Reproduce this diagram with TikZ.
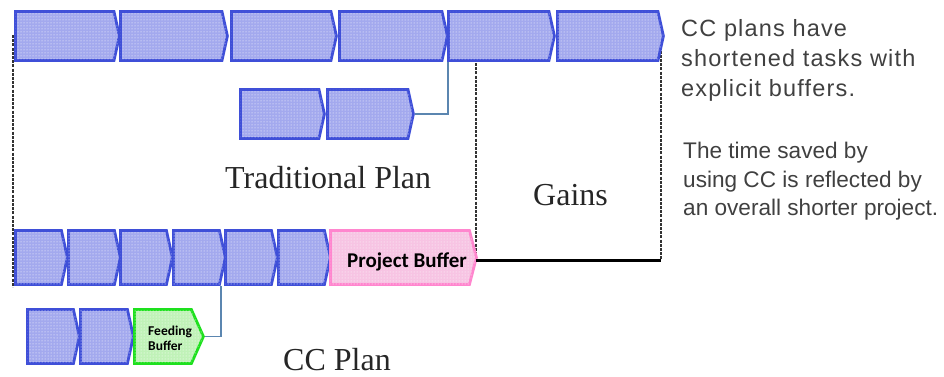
\documentclass[tikz,border=0pt]{standalone}
\usepackage{fontspec}
\setmainfont{Liberation Serif}
\newfontfamily\sansA[LetterSpace=5]{Liberation Sans}
\newfontfamily\sansB{Liberation Sans}
\newfontfamily\calfont{Carlito}
\usetikzlibrary{shapes.symbols,patterns}
\definecolor{taskblue}{HTML}{3F4FD8}
\definecolor{taskfill}{HTML}{A3A9EE}
\definecolor{pinkline}{HTML}{FF86CE}
\definecolor{pinkfill}{HTML}{F7C4E3}
\definecolor{greenline}{HTML}{1EE01E}
\definecolor{greenfill}{HTML}{C0F2B8}
\definecolor{connblue}{HTML}{5B86B0}
\definecolor{textgray}{HTML}{404040}
\begin{document}
\begin{tikzpicture}[x=1pt,y=-1pt,
  task/.style={signal, signal to=east, signal pointer angle=155, draw=taskblue,
    line width=2.8pt, fill=taskfill, postaction={pattern=dots, pattern color=white},
    inner sep=0pt, anchor=west},
  toprow/.style={task, minimum height=49},
  lowrow/.style={task, minimum height=54},
  pbuf/.style={lowrow, draw=pinkline, fill=pinkfill, signal pointer angle=151},
  fbuf/.style={lowrow, draw=greenline, fill=greenfill, signal pointer angle=132},
  conn/.style={draw=connblue, line width=1.5pt},
  dashline/.style={draw=black!80, line width=1.6pt, dash pattern=on 3pt off 1.2pt},
  serifl/.style={font=\fontsize{32}{38}\selectfont, inner sep=0pt, anchor=base west, text=black!85},
  para/.style={inner sep=0pt, anchor=north west, align=left, text=textgray}
]
\useasboundingbox (0,0) rectangle (944,377);

% dashed guide lines (behind)
\coordinate (g1) at (476,260);
\coordinate (g2) at (661,260);
\draw[dashline] (13,35) -- (13,287);
\draw[dashline] (476,63) -- (g1);
\draw[dashline] (661,38) -- (g2);

% traditional plan
\node[toprow, minimum width=104] (t1) at (14,36) {};
\node[toprow, minimum width=107] (t2) at (119,36) {};
\node[toprow, minimum width=105] (t3) at (230,36) {};
\node[toprow, minimum width=108] (t4) at (338,36) {};
\node[toprow, minimum width=106] (t5) at (447,36) {};
\node[toprow, minimum width=106] (t6) at (556,36) {};
\node[toprow, minimum width=84] (tb1) at (239,114) {};
\node[toprow, minimum width=86] (tb2) at (326,114) {};
\draw[conn] (tb2.east) -| ([xshift=1pt]t5.south west);

% CC plan
\node[lowrow, minimum width=52] (c1) at (14,257.5) {};
\node[lowrow, minimum width=52] (c2) at (67,257.5) {};
\node[lowrow, minimum width=52] (c3) at (119,257.5) {};
\node[lowrow, minimum width=52] (c4) at (172,257.5) {};
\node[lowrow, minimum width=52] (c5) at (224,257.5) {};
\node[lowrow, minimum width=52] (c6) at (277,257.5) {};
\node[pbuf, minimum width=146] (pb) at (329,257.5) {};
\node[font=\calfont\bfseries\fontsize{21}{24}\selectfont, inner sep=0pt, anchor=base west] at (347,267) {Project Buffer};

\node[lowrow, minimum width=52] (f1) at (26,336.5) {};
\node[lowrow, minimum width=53] (f2) at (79,336.5) {};
\node[fbuf, minimum width=69] (fb) at (133,336.5) {};
\node[font=\calfont\bfseries\fontsize{13.5}{15}\selectfont, inner sep=0pt, anchor=north west, align=left] at (148,326) {Feeding\\Buffer};
\draw[conn] (fb.east) -| ([xshift=-3pt]c5.south west);

% gains line
\draw[line width=3pt] (g1) -- (g2);

% labels
\node[serifl] (lt) at (225,188) {Traditional Plan};
\node[serifl] (lg) at (533,205) {Gains};
\node[serifl] (lc) at (283,370) {CC Plan};

\node[para, font=\sansA\fontsize{23.5}{30}\selectfont] (p1) at (681,19) {CC plans have\\shortened tasks with\\explicit buffers.};
\node[para, font=\sansB\fontsize{22.6}{28.5}\selectfont] (p2) at (683,142) {The time saved by\\using CC is reflected by\\an overall shorter project.};
\end{tikzpicture}
\end{document}
